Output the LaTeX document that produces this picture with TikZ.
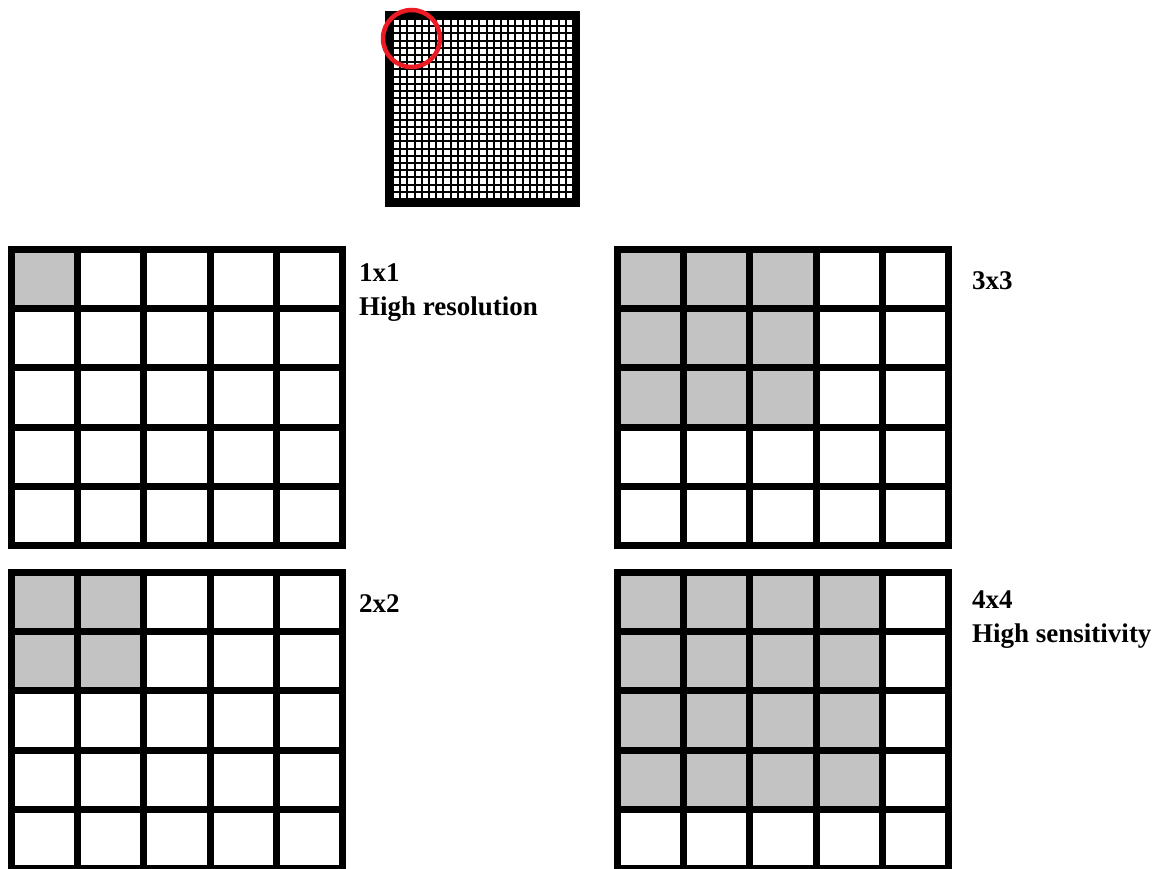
\documentclass[tikz,border=0pt]{standalone}
\usepackage{fontspec}
\setmainfont{Liberation Serif}
\usepackage{tikz}
\usetikzlibrary{positioning,calc}
\usepackage{xcolor}

\definecolor{cellgray}{RGB}{195,195,195}
\definecolor{ringred}{RGB}{237,28,36}

\begin{document}
\begin{tikzpicture}[
    x=1pt, y=-1pt,
    gridline/.style={line width=7pt, black},
    fineline/.style={line width=2pt, black},
    shaded/.style={fill=cellgray},
    lbl/.style={font=\fontsize{27}{34}\selectfont\bfseries, anchor=base west, inner sep=0pt},
    ring/.style={draw=ringred, line width=4.5pt}
]
    \useasboundingbox (0,0) rectangle (1164,869);
    \fill[white] (0,0) rectangle (1164,869);

    % pixel array, fine
    \fill[white] (389,15) rectangle (576,203);
    \foreach \k in {0,...,25} {
        \draw[fineline] ({393+7.2*\k},19) -- ({393+7.2*\k},199);
        \draw[fineline] (393,{19+7.2*\k}) -- (573,{19+7.2*\k});
    }
    \draw[line width=8pt] (389,15) rectangle (576,203);
    \draw[ring] (411.5,38.5) circle (28.5);

    % binned arrays: origin / number of shaded cells
    \foreach \ox/\oy/\n in {11.5/249.5/1, 617.5/249.5/3, 11.5/572.5/2, 617.5/572.5/4} {
        \begin{scope}[shift={(\ox,\oy)}]
            \foreach \i in {1,...,\n}
                \foreach \j in {1,...,\n}
                    \fill[shaded] ({66.2*(\i-1)},{59.2*(\j-1)}) rectangle ({66.2*\i},{59.2*\j});
            \foreach \k in {1,...,4} {
                \draw[gridline] ({66.2*\k},0) -- ({66.2*\k},296);
                \draw[gridline] (0,{59.2*\k}) -- (331,{59.2*\k});
            }
            \draw[gridline] (0,0) rectangle (331,296);
        \end{scope}
    }

    \node[lbl] (bin1) at (359,281) {1x1};
    \node[lbl] (bin1txt) at ([yshift=-34pt]bin1.base west) {High resolution};
    \node[lbl] (bin3) at (972,289) {3x3};
    \node[lbl] (bin2) at (359,612) {2x2};
    \node[lbl] (bin4) at (972,608) {4x4};
    \node[lbl] (bin4txt) at ([yshift=-34pt]bin4.base west) {High sensitivity};
\end{tikzpicture}
\end{document}
